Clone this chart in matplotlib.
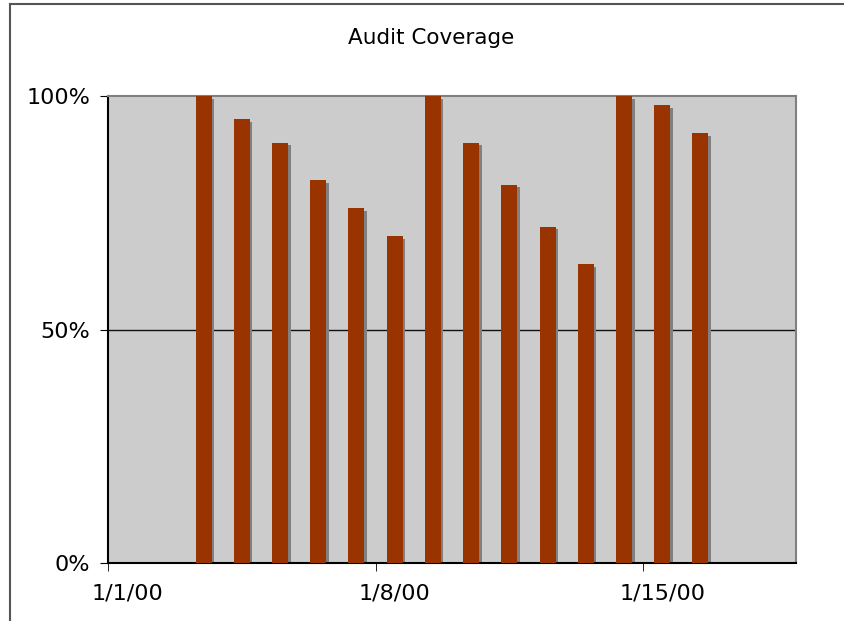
import matplotlib
matplotlib.use('Agg')
import matplotlib.pyplot as plt
import matplotlib.dates as mdates
import matplotlib.transforms as mtransforms
from matplotlib.lines import Line2D
import pandas as pd

dates = ['2000-01-03', '2000-01-04', '2000-01-05', '2000-01-06', '2000-01-07',
         '2000-01-08', '2000-01-09', '2000-01-10', '2000-01-11', '2000-01-12',
         '2000-01-13', '2000-01-14', '2000-01-15', '2000-01-16']
coverage = [100, 95, 90, 82, 76, 70, 100, 90, 81, 72, 64, 100, 98, 92]
tick_labels = ['1/1/00', '1/8/00', '1/15/00']
tick_dates = ['2000-01-01', '2000-01-08', '2000-01-15']

plt.rcParams['font.family'] = ['DejaVu Sans']

x = mdates.date2num(pd.to_datetime(dates))
ticks = mdates.date2num(pd.to_datetime(tick_dates))

fig = plt.figure(figsize=(8.44, 6.21), dpi=100)
ax = fig.add_axes([108/844, 1 - 563/621, (796-108)/844, (563-96)/621])
ax.set_facecolor('#cccccc')

# drop shadow: same bars shifted a few pixels right and down
shadow = ax.transData + mtransforms.ScaledTranslation(2.5/100, -2.5/100, fig.dpi_scale_trans)
ax.bar(x, coverage, width=0.42, color='#808080', transform=shadow, zorder=2)
ax.bar(x, coverage, width=0.42, color='#993300', zorder=3)

ax.set_xlim(ticks[0] - 0.5, ticks[0] + 17.5)
ax.set_ylim(0, 100)

ax.set_yticks([0, 50, 100])
ax.set_yticklabels(['0%', '50%', '100%'])
ax.axhline(50, color='#111111', lw=1.0, zorder=1)

ax.set_xticks(ticks)
ax.set_xticklabels(tick_labels)
ax.set_xticks(ticks - 0.5, minor=True)
ax.tick_params(axis='x', which='major', length=0, pad=15, labelsize=16)
ax.tick_params(axis='x', which='minor', length=6, direction='out', color='black')
ax.tick_params(axis='y', length=6, direction='out', pad=7, labelsize=16)

ax.spines['left'].set_color('black')
ax.spines['bottom'].set_color('black')
ax.spines['top'].set_color('#808080')
ax.spines['right'].set_color('#808080')
for s in ax.spines.values():
    s.set_linewidth(1.5)

fig.text(431/844, 1 - 38/621, 'Audit Coverage', ha='center', va='center', fontsize=15.5)

# outer chart frame (only left and top edges visible)
fig.add_artist(Line2D([9.5/844, 9.5/844], [0, 1 - 3.5/621], color='#555555', lw=1.5))
fig.add_artist(Line2D([9.5/844, 1], [1 - 3.5/621, 1 - 3.5/621], color='#555555', lw=1.5))

fig.savefig('out.png', dpi=100)
